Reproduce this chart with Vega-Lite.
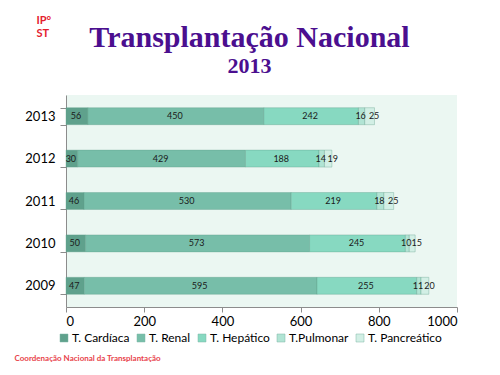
{
  "$schema": "https://vega.github.io/schema/vega-lite/v6.json",
  "width": 391,
  "height": 212,
  "autosize": "none",
  "padding": {"left": 66, "top": 95, "right": 43, "bottom": 68},
  "background": "white",
  "title": {
    "text": "Transplantação Nacional",
    "subtitle": "2013",
    "font": "Liberation Serif",
    "fontSize": 30,
    "fontWeight": "bold",
    "color": "#4b0f8f",
    "subtitleFont": "Liberation Serif",
    "subtitleFontSize": 22,
    "subtitleFontWeight": "bold",
    "subtitleColor": "#4b0f8f",
    "subtitlePadding": 3,
    "anchor": "middle",
    "frame": "group",
    "dx": -12,
    "offset": 0,
    "dy": 63
  },
  "data": {
    "values": [
      {"year": "2013", "type": "T. Cardíaca", "k": 1, "v": 56},
      {"year": "2013", "type": "T. Renal", "k": 2, "v": 450},
      {"year": "2013", "type": "T. Hepático", "k": 3, "v": 242},
      {"year": "2013", "type": "T.Pulmonar", "k": 4, "v": 16},
      {"year": "2013", "type": "T. Pancreático", "k": 5, "v": 25},
      {"year": "2012", "type": "T. Cardíaca", "k": 1, "v": 30},
      {"year": "2012", "type": "T. Renal", "k": 2, "v": 429},
      {"year": "2012", "type": "T. Hepático", "k": 3, "v": 188},
      {"year": "2012", "type": "T.Pulmonar", "k": 4, "v": 14},
      {"year": "2012", "type": "T. Pancreático", "k": 5, "v": 19},
      {"year": "2011", "type": "T. Cardíaca", "k": 1, "v": 46},
      {"year": "2011", "type": "T. Renal", "k": 2, "v": 530},
      {"year": "2011", "type": "T. Hepático", "k": 3, "v": 219},
      {"year": "2011", "type": "T.Pulmonar", "k": 4, "v": 18},
      {"year": "2011", "type": "T. Pancreático", "k": 5, "v": 25},
      {"year": "2010", "type": "T. Cardíaca", "k": 1, "v": 50},
      {"year": "2010", "type": "T. Renal", "k": 2, "v": 573},
      {"year": "2010", "type": "T. Hepático", "k": 3, "v": 245},
      {"year": "2010", "type": "T.Pulmonar", "k": 4, "v": 10},
      {"year": "2010", "type": "T. Pancreático", "k": 5, "v": 15},
      {"year": "2009", "type": "T. Cardíaca", "k": 1, "v": 47},
      {"year": "2009", "type": "T. Renal", "k": 2, "v": 595},
      {"year": "2009", "type": "T. Hepático", "k": 3, "v": 255},
      {"year": "2009", "type": "T.Pulmonar", "k": 4, "v": 11},
      {"year": "2009", "type": "T. Pancreático", "k": 5, "v": 20}
    ]
  },
  "transform": [
    {"stack": "v", "groupby": ["year"], "sort": [{"field": "k", "order": "ascending"}], "as": ["x0", "x1"]},
    {"calculate": "(datum.x0 + datum.x1) / 2", "as": "xm"}
  ],
  "encoding": {
    "y": {
      "field": "year",
      "type": "nominal",
      "sort": "descending",
      "scale": {"paddingInner": 0.6, "paddingOuter": 0.3},
      "axis": {
        "title": "Coordenação Nacional da Transplantação",
        "titleAngle": 0,
        "titleX": -52,
        "titleY": 263,
        "titleAlign": "left",
        "titleBaseline": "middle",
        "titleColor": "#e8434b",
        "titleFont": "Lato",
        "titleFontSize": 8,
        "titleFontWeight": "bold",
        "tickBand": "extent",
        "tickSize": 6,
        "tickColor": "#8c8c8c",
        "domainColor": "#8c8c8c",
        "labelFont": "Lato",
        "labelFontSize": 13,
        "labelColor": "#000000",
        "labelPadding": 5
      }
    }
  },
  "layer": [
    {
      "mark": {"type": "bar", "stroke": "#5e9c89", "strokeWidth": 0.6, "strokeOpacity": 0.6},
      "encoding": {
        "x": {
          "field": "x0",
          "type": "quantitative",
          "scale": {"domain": [0, 1000], "nice": false},
          "axis": {
            "values": [0, 200, 400, 600, 800, 1000],
            "format": "d",
            "grid": false,
            "title": ["IP°", "ST"],
            "titleX": -30,
            "titleY": -293,
            "titleAlign": "left",
            "titleBaseline": "top",
            "titleColor": "#e4202e",
            "titleFont": "Lato",
            "titleFontSize": 11,
            "titleFontWeight": "bold",
            "titleLineHeight": 13,
            "tickSize": 5,
            "tickColor": "#8c8c8c",
            "domainColor": "#8c8c8c",
            "labelFont": "Lato",
            "labelFontSize": 13,
            "labelColor": "#000000",
            "labelPadding": 3
          }
        },
        "x2": {"field": "x1"},
        "color": {
          "field": "type",
          "type": "nominal",
          "scale": {
            "domain": ["T. Cardíaca", "T. Renal", "T. Hepático", "T.Pulmonar", "T. Pancreático"],
            "range": ["#5fa18c", "#77bea9", "#87d9c1", "#b1e4d4", "#d2efe5"]
          },
          "legend": {
            "orient": "none",
            "legendX": -8,
            "legendY": 237,
            "direction": "horizontal",
            "title": null,
            "symbolType": "square",
            "symbolSize": 64,
            "symbolStrokeColor": "#7fb5a5",
            "symbolStrokeWidth": 0.5,
            "labelFont": "Lato",
            "labelFontSize": 12,
            "labelOffset": 2,
            "labelColor": "#000000",
            "columnPadding": 5
          }
        }
      }
    },
    {
      "transform": [{"filter": "datum.k < 5"}],
      "mark": {"type": "text", "font": "Lato", "fontSize": 9, "color": "#1a1a1a", "dx": -1},
      "encoding": {
        "x": {"field": "xm", "type": "quantitative"},
        "text": {"field": "v", "type": "quantitative"}
      }
    },
    {
      "transform": [{"filter": "datum.k == 5"}],
      "mark": {"type": "text", "font": "Lato", "fontSize": 9, "color": "#1a1a1a", "dx": 4.5},
      "encoding": {
        "x": {"field": "xm", "type": "quantitative"},
        "text": {"field": "v", "type": "quantitative"}
      }
    }
  ],
  "config": {
    "view": {"fill": "#ebf7f2", "stroke": null}
  }
}
